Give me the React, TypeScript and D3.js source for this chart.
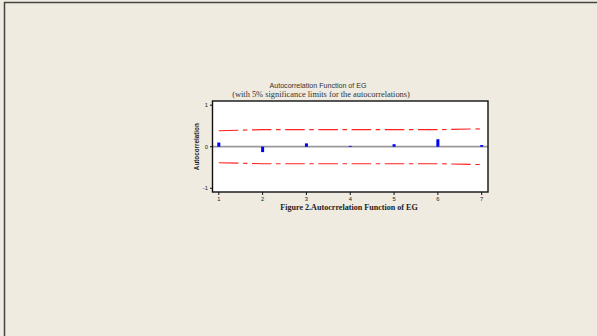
import * as d3 from 'd3';

// ACF values
const lags = [1, 2, 3, 4, 5, 6, 7];
const acf = [0.1, -0.13, 0.08, 0.02, 0.06, 0.18, 0.04];
const upperLimit = [0.385, 0.41, 0.41, 0.41, 0.41, 0.41, 0.43];
const lowerLimit = [-0.385, -0.41, -0.41, -0.41, -0.41, -0.41, -0.43];
const yTicks = [-1, 0, 1];

const title = 'Autocorrelation Function of EG';
const subtitle = '(with 5% significance limits for the autocorrelations)';
const caption = 'Figure 2.Autocrrelation Function of EG';

export default function App() {
  const width = 597;
  const height = 336;
  const box = { left: 212.5, right: 488, top: 101, bottom: 192 };

  const x = d3.scaleLinear().domain([0.856, 7.144]).range([box.left, box.right]);
  const y = d3.scaleLinear().domain([-1.09, 1.1]).range([box.bottom, box.top]);

  const limitLine = d3
    .line<number>()
    .x((_, i) => x(lags[i]))
    .y((d) => y(d));

  const sans = 'Liberation Sans, Arial, sans-serif';
  const serif = 'Liberation Serif, Times New Roman, serif';

  return (
    <div style={{ position: 'fixed', left: 0, top: 0, width, height }}>
      <svg width={width} height={height} style={{ display: 'block' }}>
        <rect x={0} y={0} width={width} height={height} fill='#efebe0' />
        {/* page frame */}
        <line x1={4.5} x2={4.5} y1={2} y2={height} stroke='#444' strokeWidth={1.5} />
        <line x1={4} x2={width} y1={2.5} y2={2.5} stroke='#444' strokeWidth={1.5} />

        {/* titles */}
        <text x={318} y={88.3} textAnchor='middle' fontFamily={sans} fontSize={7.1} fill='#333'>
          {title}
        </text>
        <text x={321} y={97} textAnchor='middle' fontFamily={serif} fontSize={8.4} fill='#333'>
          {subtitle}
        </text>

        {/* plot area */}
        <rect
          x={box.left}
          y={box.top}
          width={box.right - box.left}
          height={box.bottom - box.top}
          fill='#fff'
        />

        {/* zero line */}
        <line x1={box.left} x2={box.right} y1={y(0)} y2={y(0)} stroke='#999' strokeWidth={1.8} />

        {/* significance limits */}
        {[upperLimit, lowerLimit].map((lim, i) => (
          <path
            key={i}
            d={limitLine(lim) ?? ''}
            fill='none'
            stroke='#ff2020'
            strokeWidth={1.1}
            strokeDasharray='19.5 4.6 4.5 4.6'
          />
        ))}

        {/* ACF bars */}
        {acf.map((v, i) => (
          <rect
            key={lags[i]}
            x={x(lags[i]) - 1.5}
            y={Math.min(y(v), y(0))}
            width={3}
            height={Math.abs(y(v) - y(0))}
            fill='#0000ff'
          />
        ))}

        <rect
          x={box.left}
          y={box.top}
          width={box.right - box.left}
          height={box.bottom - box.top}
          fill='none'
          stroke='#111'
          strokeWidth={1.4}
        />

        {/* y axis */}
        {yTicks.map((t) => (
          <g key={t}>
            <line x1={box.left - 2.5} x2={box.left} y1={y(t)} y2={y(t)} stroke='#111' strokeWidth={1} />
            <text
              x={box.left - 4.5}
              y={y(t)}
              textAnchor='end'
              dominantBaseline='central'
              fontFamily={sans}
              fontSize={5.8}
              fill='#222'
            >
              {t}
            </text>
          </g>
        ))}
        <text
          transform={`translate(196,${y(0)}) rotate(-90)`}
          textAnchor='middle'
          dominantBaseline='central'
          fontFamily={sans}
          fontWeight='bold'
          fontSize={6.3}
          fill='#222'
        >
          Autocorrelation
        </text>

        {/* x axis */}
        {lags.map((l) => (
          <g key={l}>
            <line x1={x(l)} x2={x(l)} y1={box.bottom} y2={box.bottom + 3} stroke='#111' strokeWidth={1} />
            <text
              x={x(l)}
              y={box.bottom + 7}
              textAnchor='middle'
              dominantBaseline='central'
              fontFamily={sans}
              fontSize={5.8}
              fill='#222'
            >
              {l}
            </text>
          </g>
        ))}

        <text
          x={349}
          y={209.5}
          textAnchor='middle'
          fontFamily={serif}
          fontWeight='bold'
          fontSize={8.1}
          fill='#222'
        >
          {caption}
        </text>
      </svg>
    </div>
  );
}
